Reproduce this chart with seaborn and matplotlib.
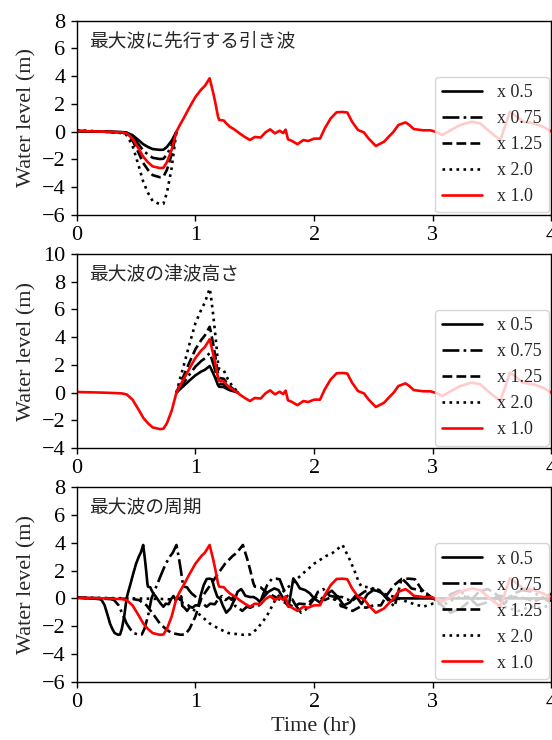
import numpy as np
import matplotlib
matplotlib.use("Agg")
import matplotlib.pyplot as plt
import seaborn as sns

# ---------------- data ----------------
# reference (x 1.0) water level time series
base_t = [0.00, 0.10, 0.20, 0.30, 0.38, 0.42, 0.47, 0.52, 0.56, 0.60,
          0.64, 0.70, 0.73, 0.76, 0.80, 0.84, 0.87, 0.90, 0.95, 1.00,
          1.05, 1.08, 1.12, 1.13, 1.15, 1.17, 1.19, 1.20, 1.24, 1.26,
          1.29, 1.33, 1.38, 1.42, 1.46, 1.50, 1.55, 1.59, 1.63, 1.67,
          1.71, 1.74, 1.76, 1.78, 1.81, 1.86, 1.91, 1.95, 2.00, 2.05,
          2.09, 2.14, 2.19, 2.24, 2.28, 2.32, 2.37, 2.42, 2.46, 2.52,
          2.59, 2.63, 2.67, 2.71, 2.77, 2.80, 2.84, 2.92, 2.98, 3.04,
          3.08, 3.15, 3.23, 3.33, 3.40, 3.48, 3.57, 3.65, 3.71, 3.76,
          3.85, 3.93, 4.00]
base_y = [0.05, 0.03, 0.01, -0.02, -0.05, -0.12, -0.5, -1.2, -1.8, -2.2,
          -2.5, -2.62, -2.6, -2.2, -1.3, 0.0, 0.5, 0.95, 1.75, 2.5,
          3.05, 3.3, 3.85, 3.5, 2.8, 2.0, 1.1, 0.85, 0.8, 0.6,
          0.36, 0.15, -0.17, -0.4, -0.6, -0.38, -0.42, -0.05, 0.17, -0.12,
          0.07, -0.1, 0.15, -0.55, -0.65, -0.9, -0.6, -0.67, -0.5, -0.5,
          0.24, 0.96, 1.4, 1.42, 1.38, 0.72, 0.12, -0.05, -0.5, -1.03,
          -0.72, -0.35, 0.0, 0.48, 0.67, 0.5, 0.19, 0.1, 0.1, -0.05,
          -0.24, 0.1, 0.48, 0.72, 0.6, 0.0, -0.6, 1.44, 1.08, 0.72,
          0.6, 0.36, 0.0]

labels = ["x 0.5", "x 0.75", "x 1.25", "x 2.0", "x 1.0"]
styles = ["-", "-.", "--", ":", "-"]
colors = ["black", "black", "black", "black", "red"]
titles = ["最大波に先行する引き波", "最大波の津波高さ", "最大波の周期"]
ylims = [(-6, 8), (-4, 10), (-6, 8)]

# panel 1: leading trough scaled
p1_t = [0.00, 0.10, 0.20, 0.30, 0.38, 0.42, 0.47, 0.52, 0.56, 0.60,
        0.64, 0.70, 0.73, 0.76, 0.80, 0.84]
p1_x05 = [0.03, 0.02, 0.01, -0.01, -0.03, -0.06, -0.25, -0.6, -0.9, -1.1,
          -1.25, -1.31, -1.3, -1.1, -0.65, 0.0]
p1_x075 = [0.04, 0.02, 0.01, -0.02, -0.04, -0.09, -0.38, -0.9, -1.35, -1.65,
           -1.88, -1.97, -1.95, -1.65, -0.98, 0.0]
p1_x125 = [0.06, 0.04, 0.01, -0.03, -0.06, -0.15, -0.63, -1.5, -2.25, -2.75,
           -3.13, -3.28, -3.25, -2.75, -1.63, 0.0]
p1_x20 = [0.1, 0.06, 0.02, -0.04, -0.1, -0.24, -1.0, -2.4, -3.6, -4.4,
          -5.0, -5.22, -5.2, -4.4, -2.6, 0.0]

# panel 2: maximum wave crest scaled
p2_t = [0.84, 0.87, 0.90, 0.95, 1.00, 1.05, 1.08, 1.12, 1.13, 1.15,
        1.17, 1.19, 1.20, 1.24, 1.26, 1.29, 1.33, 1.36]
p2_x05 = [0.0, 0.25, 0.48, 0.88, 1.25, 1.53, 1.65, 1.92, 1.75, 1.4,
          1.0, 0.55, 0.43, 0.4, 0.3, 0.18, 0.08, 0.0]
p2_x075 = [0.0, 0.38, 0.71, 1.31, 1.88, 2.29, 2.48, 2.86, 2.63, 2.1,
           1.5, 0.83, 0.64, 0.6, 0.45, 0.27, 0.11, 0.0]
p2_x125 = [0.0, 0.63, 1.19, 2.19, 3.13, 3.81, 4.13, 4.75, 4.38, 3.5,
           2.5, 1.38, 1.06, 1.0, 0.75, 0.45, 0.19, 0.0]
p2_x20 = [0.0, 1.0, 1.9, 3.5, 5.0, 6.0, 6.5, 7.5, 7.0, 5.6,
          4.0, 2.2, 1.7, 1.6, 1.2, 0.72, 0.3, 0.0]

# panel 3: period (time axis) changed
p3_t05 = [0.0, 0.05, 0.1, 0.15, 0.19, 0.21, 0.235, 0.26, 0.28, 0.3,
          0.32, 0.35, 0.365, 0.38, 0.4, 0.42, 0.435, 0.45, 0.475, 0.5,
          0.525, 0.54, 0.56, 0.565, 0.575, 0.585, 0.595, 0.6, 0.62, 0.63,
          0.645, 0.665, 0.69, 0.71, 0.73, 0.75, 0.775, 0.795, 0.815, 0.835,
          0.855, 0.87, 0.88, 0.89, 0.905, 0.93, 0.955, 0.975, 1.0, 1.025,
          1.045, 1.07, 1.095, 1.12, 1.14, 1.16, 1.185, 1.21, 1.23, 1.26,
          1.295, 1.315, 1.335, 1.355, 1.385, 1.4, 1.42, 1.46, 1.49, 1.52,
          1.54, 1.575, 1.615, 1.665, 1.7, 1.74, 1.785, 1.825, 1.855, 1.88,
          1.925, 1.965, 2.0]
tail05_t = [2.05, 2.1, 2.15, 2.2, 2.25, 2.3, 2.35, 2.4, 2.45, 2.5,
            2.55, 2.6, 2.65, 2.7, 4.0]
tail05_y = [-0.3, 0.3, 0.55, 0.1, -0.5, -0.3, 0.2, -0.4, 0.3, 0.6,
            0.5, 0.2, -0.2, 0.0, 0.0]

p3_t075 = [0.0, 0.075, 0.15, 0.225, 0.285, 0.315, 0.353, 0.39, 0.42, 0.45,
           0.48, 0.525, 0.548, 0.57, 0.6, 0.63, 0.653, 0.675, 0.713, 0.75,
           0.788, 0.81, 0.84, 0.848, 0.863, 0.878, 0.893, 0.9, 0.93, 0.945,
           0.968, 0.998, 1.035, 1.065, 1.095, 1.125, 1.163, 1.193, 1.223, 1.253,
           1.283, 1.305, 1.32, 1.335, 1.358, 1.395, 1.433, 1.463, 1.5, 1.538,
           1.568, 1.605, 1.643, 1.68, 1.71, 1.74, 1.778, 1.815, 1.845, 1.89,
           1.943, 1.973, 2.003, 2.033, 2.078, 2.1, 2.13, 2.19, 2.235, 2.28,
           2.31, 2.363, 2.423, 2.498, 2.55, 2.61, 2.678, 2.738, 2.783, 2.82,
           2.888, 2.948, 3.0]
tail075_t = [3.075, 3.15, 3.225, 3.3, 3.375, 3.45, 3.525, 3.6, 3.675, 3.75,
             3.825, 3.9, 3.975, 4.05]
tail075_y = [-0.3, 0.3, 0.55, 0.1, -0.5, -0.3, 0.2, -0.4, 0.3, 0.6,
             0.5, 0.2, -0.2, 0.0]

p3_t125 = [0.0, 0.125, 0.25, 0.375, 0.475, 0.525, 0.588, 0.65, 0.7, 0.75,
           0.8, 0.875, 0.913, 0.95, 1.0, 1.05, 1.088, 1.125, 1.188, 1.25,
           1.313, 1.35, 1.4, 1.413, 1.438, 1.463, 1.488, 1.5, 1.55, 1.575,
           1.613, 1.663, 1.725, 1.775, 1.825, 1.875, 1.938, 1.988, 2.038, 2.088,
           2.138, 2.175, 2.2, 2.225, 2.263, 2.325, 2.388, 2.438, 2.5, 2.563,
           2.613, 2.675, 2.738, 2.8, 2.85, 2.9, 2.963, 3.025, 3.075, 3.15,
           3.238, 3.288, 3.338, 3.388, 3.463, 3.5, 3.55, 3.65, 3.725, 3.8,
           3.85, 3.938, 4.038]

p3_t20 = [0.0, 0.2, 0.4, 0.6, 0.76, 0.84, 0.94, 1.04, 1.12, 1.2,
          1.28, 1.4, 1.46, 1.52, 1.6, 1.68, 1.74, 1.8, 1.9, 2.0,
          2.1, 2.16, 2.24, 2.26, 2.3, 2.34, 2.38, 2.4, 2.48, 2.52,
          2.58, 2.66, 2.76, 2.84, 2.92, 3.0, 3.1, 3.18, 3.26, 3.34,
          3.42, 3.48, 3.52, 3.56, 3.62, 3.72, 3.82, 3.9, 4.0]

# ---------------- style ----------------
sns.set_style("ticks")
plt.rcParams["font.family"] = ["Liberation Serif", "DejaVu Serif"]
plt.rcParams["axes.edgecolor"] = "black"
plt.rcParams["axes.linewidth"] = 1.0
plt.rcParams["xtick.color"] = "black"
plt.rcParams["ytick.color"] = "black"
plt.rcParams["axes.unicode_minus"] = True

fig = plt.figure(figsize=(5.52, 7.40), dpi=100)
left, width, height = 0.139, 0.860, 0.2626
bottoms = [0.7095, 0.3943, 0.0788]
axes = [fig.add_axes([left, b, width, height]) for b in bottoms]

panel_series = [
    [(p1_t, p1_x05), (p1_t, p1_x075), (p1_t, p1_x125), (p1_t, p1_x20)],
    [(p2_t, p2_x05), (p2_t, p2_x075), (p2_t, p2_x125), (p2_t, p2_x20)],
    [(p3_t05 + tail05_t, base_y + tail05_y),
     (p3_t075 + tail075_t, base_y + tail075_y),
     (p3_t125, base_y[:len(p3_t125)]),
     (p3_t20, base_y[:len(p3_t20)])],
]

LW = 1.9
for i, ax in enumerate(axes):
    for (tx, ty), lab, ls, col in zip(panel_series[i], labels[:4], styles[:4], colors[:4]):
        sns.lineplot(x=tx, y=ty, ax=ax, color=col, linestyle=ls, linewidth=LW,
                     label=lab, errorbar=None, sort=False)
    sns.lineplot(x=base_t, y=base_y, ax=ax, color=colors[4], linestyle=styles[4],
                 linewidth=LW, label=labels[4], errorbar=None, sort=False)

    ax.set_xlim(0, 4)
    ax.set_ylim(*ylims[i])
    ax.set_xticks([0, 1, 2, 3, 4])
    lo, hi = ylims[i]
    ax.set_yticks(list(range(lo, hi + 1, 2)))
    ax.tick_params(labelsize=16, direction="out", length=4.5, width=1.0)
    ax.set_ylabel("Water level (m)", fontsize=16)
    ax.set_xlabel("Time (hr)" if i == 2 else "", fontsize=16)
    ax.text(0.025, 0.895, titles[i], transform=ax.transAxes, fontsize=13.5,
            va="center", ha="left", family=["Noto Sans CJK JP", "DejaVu Sans"])
    ax.legend(loc="lower right", fontsize=13, borderaxespad=0.15,
              labelspacing=0.5, handlelength=2.2, frameon=True)

fig.savefig("out.png", dpi=100)
